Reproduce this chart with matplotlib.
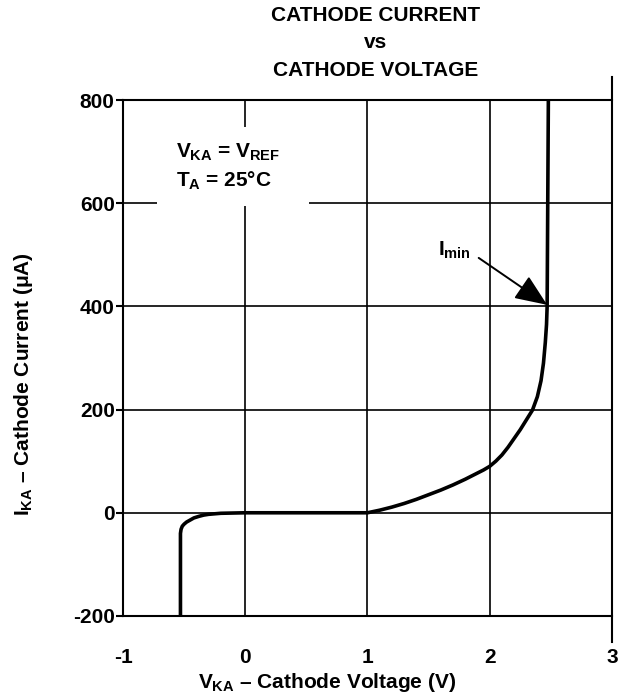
import matplotlib
matplotlib.use('Agg')
import matplotlib.pyplot as plt
from matplotlib.patches import Rectangle

# Curve data (V, uA)
v_ka = [-0.53, -0.53, -0.525, -0.515, -0.50, -0.48, -0.45, -0.42, -0.38,
        -0.34, -0.30, -0.25, -0.20, -0.10, 0.0,
        1.0, 1.1, 1.2, 1.3, 1.4, 1.5, 1.6, 1.7, 1.8, 1.9, 1.95, 2.0, 2.05,
        2.1, 2.15, 2.2, 2.25, 2.3, 2.35, 2.39, 2.42, 2.44, 2.455, 2.465,
        2.47, 2.48]
i_ka = [-200, -40, -32, -26, -22, -18, -14, -10, -7,
        -4.5, -3, -2, -1, -0.5, 0,
        0, 5, 11, 18, 26, 35, 44, 54, 65, 77, 83, 90, 100,
        112, 127, 144, 161, 180, 199, 225, 256, 290, 330, 365,
        400, 800]

x_ticks = [-1, 0, 1, 2, 3]
y_ticks = [-200, 0, 200, 400, 600, 800]

plt.rcParams['font.family'] = ['Liberation Sans', 'DejaVu Sans']
plt.rcParams['font.weight'] = 'bold'
plt.rcParams['axes.unicode_minus'] = False
plt.rcParams['mathtext.fontset'] = 'custom'
plt.rcParams['mathtext.rm'] = 'Liberation Sans:bold'
plt.rcParams['mathtext.it'] = 'Liberation Sans:bold'
plt.rcParams['mathtext.bf'] = 'Liberation Sans:bold'

fs = 15
fig = plt.figure(figsize=(6.26, 6.96), dpi=100)
ax = fig.add_axes([0.1965, 0.115, 0.781, 0.7413])

ax.set_xlim(-1, 3)
ax.set_ylim(-200, 800)
ax.set_xticks(x_ticks)
ax.set_yticks(y_ticks)
ax.tick_params(axis='x', length=0, pad=23, labelsize=fs)
ax.tick_params(axis='y', length=5, width=1.5, pad=1, labelsize=fs, direction='out')
for lab in ax.get_xticklabels() + ax.get_yticklabels():
    lab.set_fontweight('bold')

ax.grid(True, color='black', linewidth=1.2)
for sp in ax.spines.values():
    sp.set_linewidth(1.5)
ax.spines['right'].set_visible(False)

# right spine extends past the plot frame
ax.plot([3, 3], [-250, 845], color='black', lw=1.5, clip_on=False, zorder=5)

# white box behind the conditions text
ax.add_patch(Rectangle((0.07, 0.795), 0.31, 0.153, transform=ax.transAxes,
                       facecolor='white', edgecolor='none', zorder=2))
ax.text(0.108, 0.870, r'$V_{KA}$ = $V_{REF}$' + '\n' + r'$T_A$ = 25°C',
        transform=ax.transAxes, fontsize=fs, fontweight='bold',
        va='center', ha='left', linespacing=1.4, zorder=3)

# curve
ax.plot(v_ka, i_ka, color='black', lw=2.6, solid_capstyle='butt', zorder=4)

# I_min annotation
ax.text(1.71, 509, r'$I_{min}$', fontsize=fs, ha='center', va='center', zorder=4)
ax.annotate('', xy=(2.47, 403), xytext=(1.91, 494),
            arrowprops=dict(arrowstyle='-|>,head_length=0.6,head_width=0.25',
                            mutation_scale=33, color='black', lw=1.4,
                            shrinkA=0, shrinkB=0), zorder=4)

ax.set_xlabel(r'$V_{KA}$ – Cathode Voltage (V)', fontsize=fs, fontweight='bold',
              va='center')
ax.xaxis.set_label_coords(0.417, -0.128)
ax.set_ylabel(r'$I_{KA}$ – Cathode Current (μA)', fontsize=fs, fontweight='bold',
              va='center')
ax.yaxis.set_label_coords(-0.204, 0.45)

fig.text(0.6, 1 - 6 / 696, 'CATHODE CURRENT\nvs\nCATHODE VOLTAGE',
         ha='center', va='top', fontsize=fs, fontweight='bold', linespacing=1.55)

fig.savefig('out.png', dpi=100)
